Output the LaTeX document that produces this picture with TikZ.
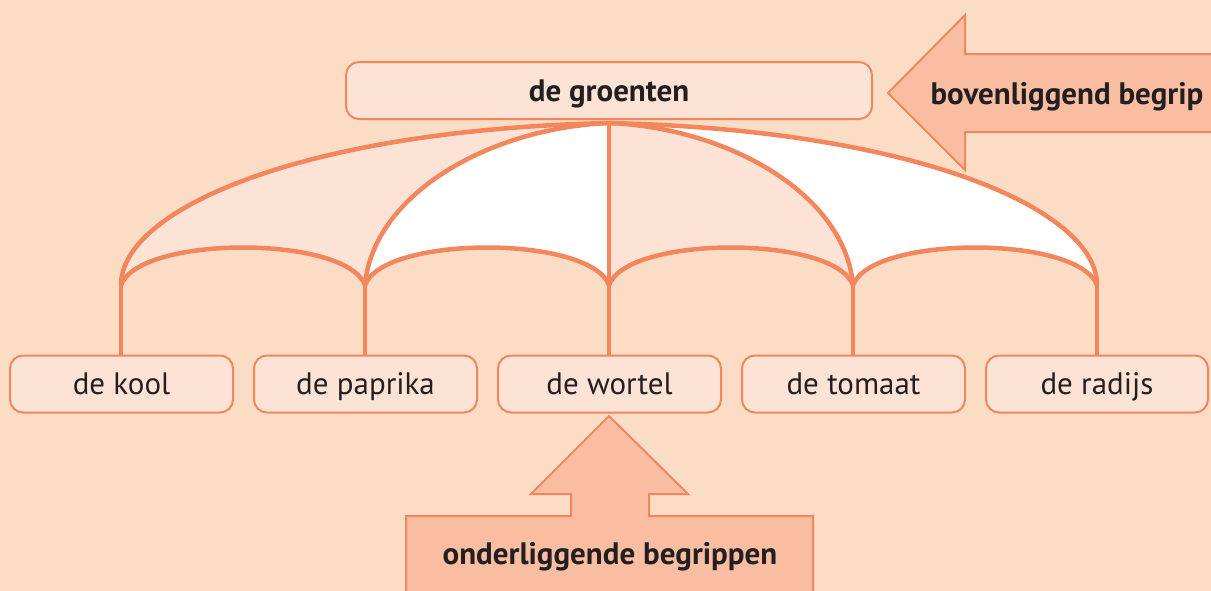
\documentclass[tikz,border=0pt]{standalone}
\usepackage{fontspec}
\setmainfont{PT Sans}
\definecolor{bgc}{HTML}{FBDCC4}
\definecolor{boxc}{HTML}{FDE3D6}
\definecolor{linec}{HTML}{F4865E}
\definecolor{arrc}{HTML}{F9BEA1}
\definecolor{txtc}{HTML}{231F20}
\tikzset{
  termbox/.style={draw=linec, line width=2, fill=boxc, rounded corners=13, minimum height=57, text=txtc, font=\fontsize{31}{36}\selectfont, inner sep=0, text height=25, text depth=4},
  rib/.style={draw=linec, line width=4.5},
  bigarrow/.style={draw=linec, line width=2, fill=arrc},
  arrtext/.style={text=txtc, font=\fontsize{31}{36}\selectfont\bfseries, inner sep=0, text height=25, text depth=4},
}
\begin{document}
\begin{tikzpicture}[x=1pt,y=-1pt]
\useasboundingbox (0,0) rectangle (1211,590);
\clip (0,0) rectangle (1211,590);
\fill[bgc] (-5,-5) rectangle (1216,595);

% coordinates
\coordinate (apex) at (609,123);
\coordinate (s1) at (121,285);
\coordinate (s2) at (365,285);
\coordinate (s3) at (609,285);
\coordinate (s4) at (853,285);
\coordinate (s5) at (1097,285);

% panels
\fill[boxc] (apex) .. controls (300,130) and (121,210) .. (s1)
  .. controls (140,235) and (346,235) .. (s2)
  .. controls (373,195) and (488,128) .. (apex) -- cycle;
\fill[white] (apex) .. controls (488,128) and (373,195) .. (s2)
  .. controls (384,235) and (590,235) .. (s3) -- (apex) -- cycle;
\fill[boxc] (apex) -- (s3)
  .. controls (628,235) and (834,235) .. (s4)
  .. controls (845,195) and (730,128) .. (apex) -- cycle;
\fill[white] (apex) .. controls (730,128) and (845,195) .. (s4)
  .. controls (872,235) and (1078,235) .. (s5)
  .. controls (1097,210) and (918,130) .. (apex) -- cycle;

% top arrow
\draw[bigarrow] (888,93) -- (965,15) -- (965,54) -- (1216,54) -- (1216,132) -- (965,132) -- (965,170) -- cycle;
\node[arrtext] (upper) at (1067,94) {bovenliggend begrip};

% bottom arrow
\draw[bigarrow] (609,416) -- (688,494) -- (649,494) -- (649,516) -- (813,516) -- (813,596) -- (406,596) -- (406,516) -- (571,516) -- (571,494) -- (531,494) -- cycle;
\node[arrtext] (lower) at (610,554) {onderliggende begrippen};

% boxes
\node[termbox, minimum width=526, font=\fontsize{31}{36}\selectfont\bfseries] (top) at (609,90.5) {de groenten};
\node[termbox, minimum width=223] (b1) at (121.5,384) {de kool};
\node[termbox, minimum width=223] (b2) at (365.5,384) {de paprika};
\node[termbox, minimum width=223] (b3) at (609.5,384) {de wortel};
\node[termbox, minimum width=223] (b4) at (853.5,384) {de tomaat};
\node[termbox, minimum width=222] (b5) at (1097,384) {de radijs};

% ribs
\draw[rib] (apex) .. controls (300,130) and (121,210) .. (s1);
\draw[rib] (apex) .. controls (488,128) and (373,195) .. (s2);
\draw[rib] (apex) -- (s3);
\draw[rib] (apex) .. controls (730,128) and (845,195) .. (s4);
\draw[rib] (apex) .. controls (918,130) and (1097,210) .. (s5);
% scallops
\draw[rib] (s1) .. controls (140,235) and (346,235) .. (s2)
  .. controls (384,235) and (590,235) .. (s3)
  .. controls (628,235) and (834,235) .. (s4)
  .. controls (872,235) and (1078,235) .. (s5);
% stems
\draw[rib] (s1) -- (s1 |- b1.north);
\draw[rib] (s2) -- (s2 |- b2.north);
\draw[rib] (s3) -- (s3 |- b3.north);
\draw[rib] (s4) -- (s4 |- b4.north);
\draw[rib] (s5) -- (s5 |- b5.north);
\end{tikzpicture}
\end{document}
